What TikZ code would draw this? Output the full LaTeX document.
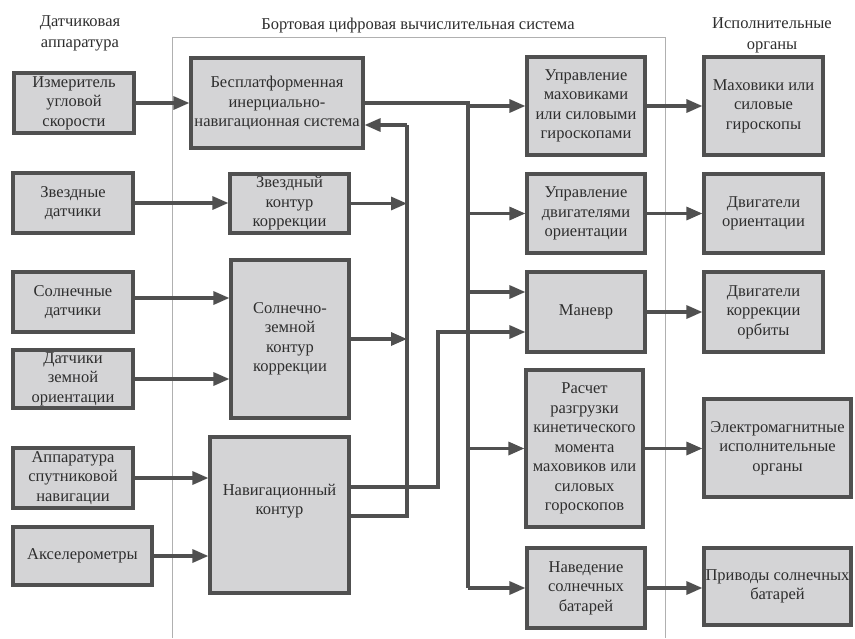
\documentclass[tikz,border=0pt]{standalone}
\usepackage{fontspec}
\setmainfont{Liberation Serif}
\newfontfamily\labelfont{Liberation Serif}
\usetikzlibrary{arrows.meta}
\definecolor{boxfill}{HTML}{D4D4D6}
\definecolor{boxline}{HTML}{505050}
\definecolor{txt}{HTML}{2E2E2E}
\definecolor{frame}{HTML}{B0B0B0}
\tikzset{
  blk/.style={draw=boxline, fill=boxfill, line width=3.2pt, inner sep=0pt,
    align=center, text=txt, font=\labelfont\fontsize{16.5}{19.5}\selectfont},
  hdr/.style={align=center, text=txt, font=\labelfont\fontsize{16.5}{21}\selectfont},
  wire/.style={draw=boxline, line width=3.2pt},
  arr/.style={wire, -{Triangle[length=16pt,width=13pt]}},
}
% box from its corner coordinates
\newcommand\blkbox[6]{\node[blk, minimum width={#3-#1}, minimum height={#4-#2}] (#5) at ({(#1+#3)/2},{(#2+#4)/2}) {#6};}
\begin{document}
\begin{tikzpicture}[x=1pt,y=-1pt]
\useasboundingbox (0,0) rectangle (855,638);
\fill[white] (0,0) rectangle (855,638);

% onboard computer frame (open at the bottom)
\draw[frame, line width=1pt] (172,638) -- (172,37) -- (665,37) -- (665,638);

% headers
\node[hdr] (hsens) at (80,33) {Датчиковая\\аппаратура};
\node[hdr] (hbcvs) at (418,26) {Бортовая цифровая вычислительная система};
\node[hdr] (hact)  at (772,35) {Исполнительные\\органы};

% sensors
\blkbox{14}{73}{134}{133}{izm}{Измеритель\\угловой\\скорости}
\blkbox{13}{173}{133}{233}{zvd}{Звездные\\датчики}
\blkbox{13}{272}{133}{332}{sold}{Солнечные\\датчики}
\blkbox{13}{350}{133}{408}{zemd}{Датчики\\земной\\ориентации}
\blkbox{13}{448}{133}{508}{sat}{Аппаратура\\спутниковой\\навигации}
\blkbox{13}{527}{152}{585}{acc}{Акселерометры}

% onboard computer blocks
\blkbox{191}{58}{363}{148}{bins}{Бесплатформенная\\инерциально-\\навигационная система}
\blkbox{230}{174}{349}{233}{zvk}{Звездный\\контур\\коррекции}
\blkbox{231}{260}{349}{418}{szk}{Солнечно-\\земной\\контур\\коррекции}
\blkbox{210}{437}{349}{593}{nav}{Навигационный\\контур\\[12pt]}
\blkbox{527}{57}{645}{155}{upm}{Управление\\маховиками\\или силовыми\\гироскопами}
\blkbox{527}{174}{645}{253}{upd}{Управление\\двигателями\\ориентации}
\blkbox{527}{272}{645}{352}{man}{Маневр}
\blkbox{526}{370}{643}{527}{ras}{Расчет\\разгрузки\\кинетического\\момента\\маховиков или\\силовых\\гороскопов}
\blkbox{527}{548}{645}{628}{nsb}{Наведение\\солнечных\\батарей}

% actuators
\blkbox{704}{57}{823}{155}{mah}{Маховики или\\силовые\\гироскопы}
\blkbox{704}{174}{823}{253}{dvo}{Двигатели\\ориентации}
\blkbox{704}{272}{823}{352}{dko}{Двигатели\\коррекции\\орбиты}
\blkbox{704}{399}{851}{497}{elm}{Электромагнитные\\исполнительные\\органы}
\blkbox{704}{548}{851}{625}{prv}{Приводы солнечных\\батарей}

% bus lines
\coordinate (busA) at (407,0);
\coordinate (busB) at (468,0);
\coordinate (busC) at (438,0);

% sensors to processing
\draw[arr] (izm.east) -- (bins.west);
\draw[arr] (zvd.east) -- (zvd.east -| zvk.west);
\draw[arr] ([yshift=4pt]sold.east) -- ([yshift=4pt]sold.east -| szk.west);
\draw[arr] (zemd.east) -- (zemd.east -| szk.west);
\draw[arr] (sat.east) -- (sat.east -| nav.west);
\draw[arr] (acc.east) -- (acc.east -| nav.west);

% correction loops to the inertial system
\coordinate (binsin) at ([yshift=-22pt]bins.east);
\coordinate (navout) at ([yshift=-1pt]nav.east);
\draw[wire] (navout) -| (binsin -| busA);
\draw[arr] (binsin -| busA) -- (binsin);
\draw[arr] (zvk.east) -- (zvk.east -| busA);
\draw[arr] (szk.east) -- (szk.east -| busA);

% navigation loop to manoeuvre
\coordinate (navman) at ([yshift=28pt]nav.east);
\coordinate (manlo) at ([yshift=-20pt]man.west);
\draw[arr] (navman) -| (manlo -| busC) -- (manlo);

% inertial system to control blocks
\coordinate (manhi) at ([yshift=20pt]man.west);
\draw[wire] (bins.east) -| (busB |- nsb.west);
\draw[arr] (busB |- upm.west) -- (upm.west);
\draw[arr] (busB |- upd.west) -- (upd.west);
\draw[arr] (busB |- manhi) -- (manhi);
\draw[arr] (busB |- ras.west) -- (ras.west);
\draw[arr] (busB |- nsb.west) -- (nsb.west);

% control blocks to actuators
\draw[arr] (upm.east) -- (mah.west);
\draw[arr] (upd.east) -- (dvo.west);
\draw[arr] (man.east) -- (dko.west);
\draw[arr] (ras.east) -- (ras.east -| elm.west);
\draw[arr] (nsb.east) -- (nsb.east -| prv.west);
\end{tikzpicture}
\end{document}
